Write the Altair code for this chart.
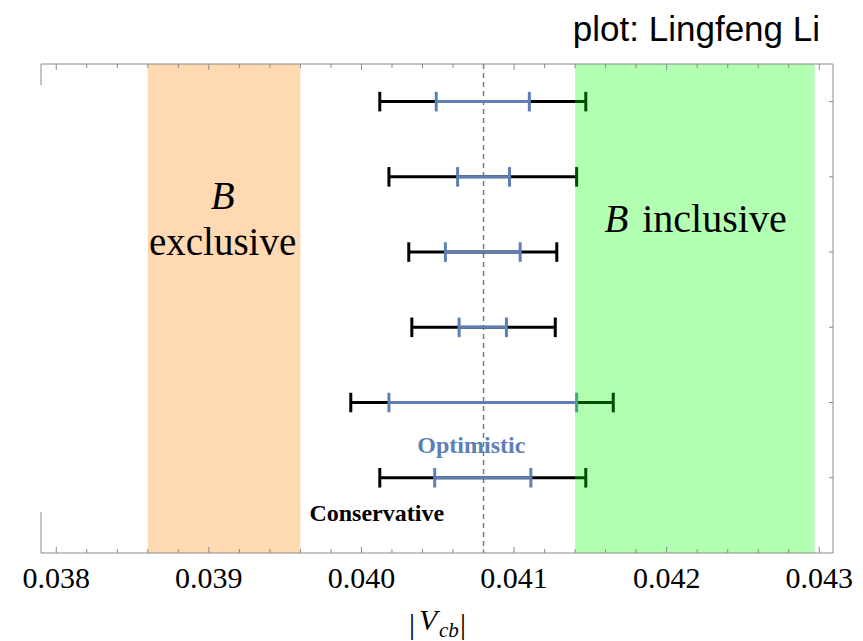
import altair as alt
import pandas as pd

# ---- data ----
rows = [1, 2, 3, 4, 5, 6]
cons_lo = [0.04012, 0.04018, 0.04031, 0.04033, 0.03993, 0.04012]
cons_hi = [0.04147, 0.04141, 0.04128, 0.04127, 0.04165, 0.04147]
opt_lo = [0.04049, 0.04063, 0.04055, 0.04064, 0.04018, 0.04048]
opt_hi = [0.04110, 0.04097, 0.04104, 0.04095, 0.04141, 0.04111]

band_names = ["exclusive", "inclusive"]
band_lo = [0.0386, 0.0414]
band_hi = [0.0396, 0.04297]
band_colors = ["#FF8000", "#00FF00"]

center_value = 0.0408
major_ticks = [0.038, 0.039, 0.040, 0.041, 0.042, 0.043]
tick_labels = ["0.038", "0.039", "0.040", "0.041", "0.042", "0.043"]
minor_ticks = [round(0.038 + 0.0002 * i, 4) for i in range(26) if i % 5 != 0]

W, H = 792, 489
XDOM = [0.0379, 0.04309]
YDOM = [0.5, 7.0]
CAP = 0.13
BLUE = "#5D7FB5"
FRAME = "#8a8a8a"
SERIF = "Liberation Serif"

xs = alt.Scale(domain=XDOM, nice=False, zero=False)
ys = alt.Scale(domain=YDOM, nice=False, zero=False, reverse=True)

bars = pd.DataFrame({"row": rows, "clo": cons_lo, "chi": cons_hi, "olo": opt_lo, "ohi": opt_hi})
caps_c = pd.DataFrame({"row": rows * 2, "v": cons_lo + cons_hi})
caps_o = pd.DataFrame({"row": rows * 2, "v": opt_lo + opt_hi})
bands = pd.DataFrame({"name": band_names, "lo": band_lo, "hi": band_hi, "c": band_colors})
ticks = pd.DataFrame({"v": major_ticks + minor_ticks,
                      "len": [6] * len(major_ticks) + [4] * len(minor_ticks)})
labels = pd.DataFrame({"v": major_ticks, "t": tick_labels})

base_x = alt.X("v:Q", scale=xs, axis=None)

# x axis labels as text
axis_layer = alt.Chart(labels).mark_text(
    font=SERIF, fontSize=30, color="black", baseline="middle", align="center").encode(
    x=base_x, y=alt.value(H + 26), text="t:N")

dash = alt.Chart(pd.DataFrame({"v": [center_value]})).mark_rule(
    color="#7a7a7a", strokeWidth=1.5, strokeDash=[5, 4]).encode(x=base_x)

cons_line = alt.Chart(bars).mark_rule(color="black", strokeWidth=3).encode(
    x=alt.X("clo:Q", scale=xs, axis=None), x2="chi:Q",
    y=alt.Y("row:Q", scale=ys, axis=None))
cons_caps = alt.Chart(caps_c).transform_calculate(
    y1=f"datum.row - {CAP}", y2=f"datum.row + {CAP}").mark_rule(
    color="black", strokeWidth=3).encode(
    x=base_x, y=alt.Y("y1:Q", scale=ys, axis=None), y2="y2:Q")
opt_line = alt.Chart(bars).mark_rule(color=BLUE, strokeWidth=3).encode(
    x=alt.X("olo:Q", scale=xs, axis=None), x2="ohi:Q",
    y=alt.Y("row:Q", scale=ys, axis=None))
opt_caps = alt.Chart(caps_o).transform_calculate(
    y1=f"datum.row - {CAP}", y2=f"datum.row + {CAP}").mark_rule(
    color=BLUE, strokeWidth=3).encode(
    x=base_x, y=alt.Y("y1:Q", scale=ys, axis=None), y2="y2:Q")

band_layer = alt.Chart(bands).mark_rect(opacity=0.3).encode(
    x=alt.X("lo:Q", scale=xs, axis=None), x2="hi:Q",
    y=alt.value(0), y2=alt.value(H),
    color=alt.Color("c:N", scale=None, legend=None))

# frame
frame_h = alt.Chart(pd.DataFrame({"y": [0, H]})).mark_rule(color=FRAME, strokeWidth=1).encode(
    x=alt.value(0), x2=alt.value(W), y=alt.Y("y:Q", scale=None))
frame_r = alt.Chart(pd.DataFrame({"a": [0]})).mark_rule(color=FRAME, strokeWidth=1).encode(
    x=alt.value(W), y=alt.value(0), y2=alt.value(H))
frame_l = alt.Chart(pd.DataFrame({"a": [0, 448], "b": [21, H]})).mark_rule(
    color=FRAME, strokeWidth=1).encode(
    x=alt.value(0), y=alt.Y("a:Q", scale=None), y2="b:Q")

top_ticks = alt.Chart(ticks).mark_rule(color=FRAME, strokeWidth=1).encode(
    x=base_x, y=alt.Y("len:Q", scale=None), y2=alt.value(0))
bot_ticks = alt.Chart(ticks).transform_calculate(t=f"{H} - datum.len").mark_rule(
    color=FRAME, strokeWidth=1).encode(
    x=base_x, y=alt.Y("t:Q", scale=None), y2=alt.value(H))
right_ticks = alt.Chart(pd.DataFrame({"row": rows})).mark_rule(
    color=FRAME, strokeWidth=1).encode(
    x=alt.value(W - 4), x2=alt.value(W), y=alt.Y("row:Q", scale=ys, axis=None))

# annotation texts
def txt(label, xv, yv, size, color="black", style="normal", weight="normal",
        align="center", font=SERIF):
    return alt.Chart(pd.DataFrame({"t": [label], "x": [xv], "y": [yv]})).mark_text(
        font=font, fontSize=size, color=color, fontStyle=style, fontWeight=weight,
        align=align, baseline="middle").encode(
        x=alt.X("x:Q", scale=xs, axis=None), y=alt.Y("y:Q", scale=ys, axis=None), text="t:N")

texts = [
    txt("B", 0.03909, 2.27, 39, style="italic"),
    txt("exclusive", 0.03909, 2.88, 39),
    txt("B", 0.04167, 2.57, 39, style="italic"),
    txt("inclusive", 0.04184, 2.57, 40, align="left"),
    txt("Optimistic", 0.04072, 5.58, 24, color=BLUE, weight="bold"),
    txt("Conservative", 0.04010, 6.48, 24, weight="bold"),
]

def ptxt(label, px, py, size, style="normal", align="left", font=SERIF, baseline="alphabetic"):
    return alt.Chart(pd.DataFrame({"t": [label]})).mark_text(
        font=font, fontSize=size, color="black", fontStyle=style, align=align,
        baseline=baseline).encode(x=alt.value(px), y=alt.value(py), text="t:N")

title_parts = [
    ptxt("|", 368, 570, 30),
    ptxt("V", 378, 566, 30, style="italic"),
    ptxt("cb", 398, 573, 21, style="italic"),
    ptxt("|", 419, 570, 30),
    ptxt("plot: Lingfeng Li", 779, -23, 35, align="right", font="Liberation Sans"),
]

chart = alt.layer(
    dash, cons_line, cons_caps, opt_line, opt_caps, band_layer,
    frame_h, frame_r, frame_l, top_ticks, bot_ticks, right_ticks, axis_layer,
    *texts, *title_parts,
).properties(
    width=W, height=H,
    autosize=alt.AutoSizeParams(type="none"),
    padding={"left": 33, "top": 56, "right": 22, "bottom": 90},
).configure_view(stroke=None)

chart.save("out.html", embed_options={"renderer": "svg", "actions": False})
